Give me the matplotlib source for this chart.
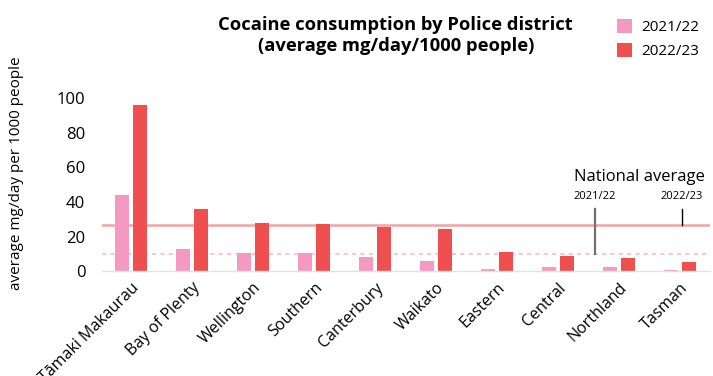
import numpy as np
import matplotlib
matplotlib.use("Agg")
import matplotlib.pyplot as plt

plt.rcParams['font.family'] = ['Open Sans', 'DejaVu Sans']

districts = ["Tāmaki Makaurau", "Bay of Plenty", "Wellington", "Southern",
             "Canterbury", "Waikato", "Eastern", "Central", "Northland", "Tasman"]
years = ["2021/22", "2022/23"]
cons_2122 = [44.2, 12.8, 10.5, 10.5, 8.1, 5.8, 1.2, 2.3, 2.3, 0.6]
cons_2223 = [96, 36, 28, 27.3, 25.6, 24.4, 11, 8.7, 7.6, 5.2]
nat_avg = {"2021/22": 10, "2022/23": 26.7}

pink = "#F49AC2"
red = "#F04F4F"

fig = plt.figure(figsize=(7.13, 3.76), dpi=100)
ax = fig.add_axes([0.143, 0.278, 0.853, 0.461])

x = np.arange(len(districts))
w = 0.23
ax.bar(x - 0.148, cons_2122, w, color=pink, label=years[0])
ax.bar(x + 0.148, cons_2223, w, color=red, label=years[1])

# national averages
ax.axhline(nat_avg["2022/23"], color="#F4A3A3", lw=1.8, zorder=0)
ax.axhline(nat_avg["2021/22"], color="#F9C3DA", lw=1.5, ls=(0, (2, 2)), zorder=0)

ax.set_xlim(-0.48, 9.49)
ax.set_ylim(0, 100)
ax.set_yticks([0, 20, 40, 60, 80, 100])
ax.tick_params(axis='y', length=0, labelsize=12, pad=12)
ax.tick_params(axis='x', length=0, labelsize=11.5, pad=6)
ax.set_xticks(x)
ax.set_xticklabels(districts, rotation=45, ha='right', rotation_mode='anchor')
for s in ["top", "right", "left"]:
    ax.spines[s].set_visible(False)
ax.spines["bottom"].set_color("#E2E2E2")
ax.spines["bottom"].set_linewidth(1)

fig.text(17 / 713, 0.54, "average mg/day per 1000 people", fontsize=11,
         rotation=90, ha='center', va='center')

# annotation of the average lines
ax.text(8.33, 54.6, "National average", fontsize=12, ha='center', va='center')
ax.text(7.6, 43, "2021/22", fontsize=8, ha='center', va='center')
ax.text(9.02, 43, "2022/23", fontsize=8, ha='center', va='center')
ax.plot([7.61, 7.61], [nat_avg["2021/22"], 36], color="#707070", lw=1.6)
ax.plot([9.03, 9.03], [nat_avg["2022/23"], 36], color="black", lw=1)

fig.text(0.555, 0.905, "Cocaine consumption by Police district\n(average mg/day/1000 people)",
         ha='center', va='center', fontsize=13.2, fontweight='bold', linespacing=1.25)

fig.legend(loc='upper right', bbox_to_anchor=(1.0, 0.985), frameon=False,
           fontsize=11, handlelength=1.0, handleheight=1.0, handletextpad=0.6,
           labelspacing=0.5)

fig.savefig("out.png", dpi=100)
